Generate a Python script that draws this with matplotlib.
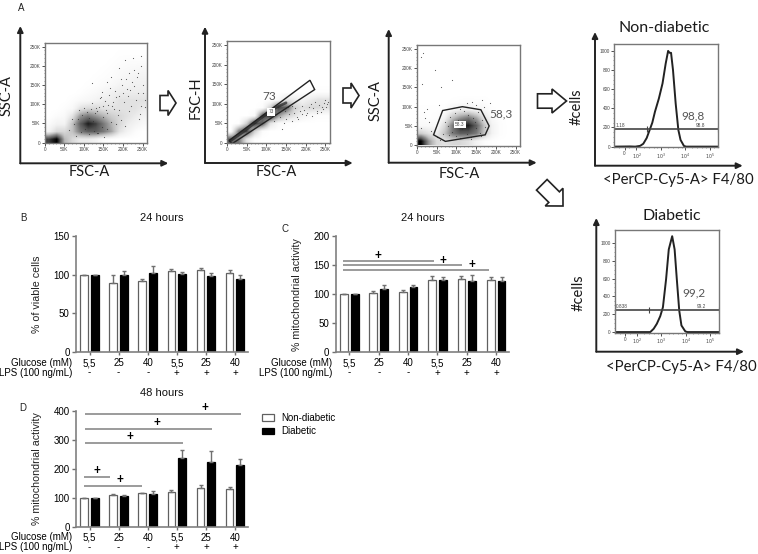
import matplotlib
matplotlib.use("Agg")
import matplotlib.pyplot as plt
from matplotlib.patches import Polygon

W, H = 758, 554
ARIAL = "Liberation Sans"
SOFT = "Lato"

# bar panels
glucose = ["5,5", "25", "40", "5,5", "25", "40"]
lps = ["-", "-", "-", "+", "+", "+"]

b_white = [100, 90, 92, 105, 106, 102]
b_white_err = [0, 10, 3, 2, 3, 4]
b_black = [100, 100, 103, 101, 99, 94]
b_black_err = [0, 5, 8, 3, 4, 6]

c_white = [100, 102, 103, 125, 126, 124]
c_white_err = [0, 3, 5, 6, 5, 6]
c_black = [100, 109, 112, 125, 123, 122]
c_black_err = [0, 6, 4, 4, 10, 8]
c_lines = [(-0.21, 2.87, 157), (-0.21, 3.82, 151), (-0.21, 4.76, 142)]
c_plus = [(0.97, 166), (3.2, 158), (4.17, 150)]

d_white = [100, 111, 115, 120, 134, 130]
d_white_err = [0, 1, 2, 5, 9, 7]
d_black = [100, 105, 112, 236, 224, 212]
d_black_err = [0, 5, 12, 28, 37, 22]
d_lines = [(-0.14, 5.2, 387), (-0.14, 4.21, 337), (-0.14, 3.21, 287), (-0.18, 0.71, 170), (-0.18, 1.81, 140)]
d_plus = [(3.98, 410), (2.33, 356), (1.38, 309), (0.26, 192), (1.06, 160)]

# flow cytometry, darkness per 20K cell, bottom row first
facs_ticks = [0, 50, 100, 150, 200, 250]
facs_labels = ["0", "50K", "100K", "150K", "200K", "250K"]

grid_a1 = [
    [8, 10, 4, 2.5, 1.5, 1.5, 1, .3, .1, 0, 0, 0, 0],
    [1, 2.5, 2.5, 3.5, 6, 7, 7, 6, 4.5, 2, 1, .3, 0],
    [.3, 1, 1, 3.5, 7, 9, 8, 6, 4, 2.5, 1.5, 1, .5],
    [0, .3, .5, 2, 5, 6, 5, 4, 3, 2.5, 2, 1.5, 1],
    [0, 0, .2, .5, 2, 2.5, 2.5, 2, 2, 2, 2, 2, 1.5],
    [0, 0, 0, .2, .5, .7, 1, 1.5, 1.5, 2, 2, 2, 2],
    [0, 0, 0, 0, .1, .3, .5, .8, 1.2, 1.5, 1.5, 1.5, 1.5],
    [0, 0, 0, 0, 0, .1, .2, .4, .6, 1, 1, 1.2, 1.2],
    [0, 0, 0, 0, 0, 0, .1, .2, .3, .5, .8, 1, 1],
    [0, 0, 0, 0, 0, 0, 0, .1, .2, .4, .5, .6, .7],
    [0, 0, 0, 0, 0, 0, 0, 0, .1, .2, .3, .3, .3],
    [0, 0, 0, 0, 0, 0, 0, 0, 0, .1, .1, .1, .1],
    [0, 0, 0, 0, 0, 0, 0, 0, 0, 0, 0, 0, 0],
]
grid_a2 = [
    [7, 6, 2, .2, 0, 0, 0, 0, 0, 0, 0, 0, 0],
    [0, 6, 8, 3, .3, 0, 0, 0, 0, 0, 0, 0, 0],
    [0, .1, 3, 8, 7, 2, .5, .2, .1, 0, 0, 0, 0],
    [0, 0, 0, .5, 7, 9, 5, 3, 2, 1, .5, .2, .2],
    [0, 0, 0, 0, .3, 3, 8, 7, 3, 2, 2.5, 2.5, 2],
    [0, 0, 0, 0, 0, .1, .5, 2, 1.5, 1, 1.5, 2, 2],
    [0, 0, 0, 0, 0, 0, 0, 0, 0, .1, .1, .2, .2],
    [0, 0, 0, 0, 0, 0, 0, 0, 0, 0, 0, 0, 0],
    [0, 0, 0, 0, 0, 0, 0, 0, 0, 0, 0, 0, 0],
    [0, 0, 0, 0, 0, 0, 0, 0, 0, 0, 0, 0, 0],
    [0, 0, 0, 0, 0, 0, 0, 0, 0, 0, 0, 0, 0],
    [0, 0, 0, 0, 0, 0, 0, 0, 0, 0, 0, 0, 0],
    [0, 0, 0, 0, 0, 0, 0, 0, 0, 0, 0, 0, 0],
]
grid_a3 = [
    [10, 5, 2.5, 2, 2.5, 2.5, 2, 1, .3, .1, 0, 0, 0],
    [3, 2, 1.5, 3.5, 6, 7, 7, 6, 3.5, 1, .2, 0, 0],
    [.5, .5, .5, 2.5, 6, 9, 9, 7, 3.5, 1, .2, 0, 0],
    [.2, .1, .2, 1, 3.5, 5, 6, 4.5, 2, .5, .1, 0, 0],
    [.1, .1, .1, .2, 1, 1.5, 1.5, 1, .7, .1, 0, 0, 0],
    [0, 0, 0, 0, .1, .2, .3, .2, .2, 0, 0, 0, 0],
    [0, 0, 0, 0, 0, 0, 0, 0, 0, 0, 0, 0, 0],
    [0, 0, 0, 0, 0, 0, 0, 0, 0, 0, 0, 0, 0],
    [0, 0, 0, 0, 0, 0, 0, 0, 0, 0, 0, 0, 0],
    [0, 0, 0, 0, 0, 0, 0, 0, 0, 0, 0, 0, 0],
    [0, 0, 0, 0, 0, 0, 0, 0, 0, 0, 0, 0, 0],
    [0, 0, 0, 0, 0, 0, 0, 0, 0, 0, 0, 0, 0],
    [0, 0, 0, 0, 0, 0, 0, 0, 0, 0, 0, 0, 0],
]

a1_x = [170, 205, 225, 190, 215, 245, 122, 160, 235, 250, 180, 140, 198, 228, 212, 150, 238, 175, 255, 130, 165, 208, 245, 88, 70, 190, 220, 240,
        154, 168, 182, 196, 210, 224, 238, 252, 147, 161, 176, 189, 203, 218, 232, 246, 120, 134, 144, 158, 172, 186, 201, 215, 229, 243, 257,
        62, 76, 84, 96, 108, 118, 128, 138, 148, 156, 92, 104, 114, 126, 136, 146, 160, 170, 182, 194, 206, 80, 100, 112, 124, 134, 152]
a1_y = [170, 215, 220, 195, 180, 200, 155, 158, 170, 150, 135, 115, 150, 190, 120, 95, 130, 105, 110, 90, 125, 165, 225, 85, 60, 85, 95, 60,
        108, 142, 118, 165, 140, 158, 182, 128, 132, 98, 88, 122, 105, 138, 112, 95, 102, 82, 118, 76, 96, 72, 128, 82, 148, 74, 92,
        32, 48, 62, 72, 80, 88, 76, 92, 66, 84, 28, 34, 22, 30, 26, 40, 36, 54, 48, 58, 44, 18, 90, 64, 56, 24, 14]
a2_x = [140, 150, 165, 180, 200, 215, 230, 245, 255, 190, 170, 225, 250, 145, 135, 120,
        148, 158, 172, 186, 196, 208, 220, 234, 242, 252, 258, 155, 178, 204, 214, 238, 166, 192, 228, 248]
a2_y = [35, 60, 55, 60, 70, 68, 80, 85, 100, 95, 75, 105, 110, 50, 65, 55,
        82, 72, 88, 80, 84, 92, 88, 96, 92, 92, 104, 90, 66, 76, 100, 78, 94, 72, 76, 102]
a3_x = [15, 10, 25, 55, 45, 12, 60, 110, 128, 140, 150, 20, 30, 10, 35, 18, 90, 170, 185, 165,
        84, 96, 104, 118, 130, 142, 154, 166, 78, 88, 100, 114, 126, 138, 150, 160, 172, 70, 82, 94, 108, 122, 136, 148, 162, 50, 58, 66]
a3_y = [240, 230, 95, 105, 195, 160, 150, 95, 110, 112, 105, 70, 60, 45, 38, 85, 170, 100, 110, 118,
        72, 84, 66, 90, 78, 70, 86, 66, 50, 34, 24, 42, 30, 22, 44, 32, 46, 60, 26, 54, 18, 60, 16, 60, 24, 22, 14, 30]

gate_a2 = [(5, 5), (211, 160), (223, 136), (13, -3)]
core_a2_x = [8, 45, 80, 105, 125, 150]
core_a2_y = [4, 30, 58, 76, 90, 102]
gate_a3 = [(65, 90), (115, 100), (162, 92), (183, 50), (173, 27), (72, 10), (42, 27)]

# histograms, x in decades
hist_ticks = [1.51, 2, 3, 4, 5]
hist_labels = ["0", "$10^2$", "$10^3$", "$10^4$", "$10^5$"]
hist_y = [0, 200, 400, 600, 800, 1000]
nd_x = [1.08, 1.74, 1.95, 2.15, 2.28, 2.42, 2.55, 2.65, 2.76, 2.92, 3.07, 3.2, 3.3, 3.36, 3.42, 3.5, 3.61, 3.72, 3.81, 3.95, 4.04, 5.36]
nd_y = [0, 2, 0, 8, 30, 90, 180, 250, 365, 503, 660, 868, 1000, 980, 980, 800, 450, 174, 70, 7, 0, 0]
d_x = [1.08, 2.55, 2.69, 2.82, 2.96, 3.07, 3.2, 3.31, 3.45, 3.55, 3.64, 3.74, 3.83, 3.99, 4.08, 5.36]
d_y = [0, 0, 37, 93, 178, 278, 593, 926, 1074, 926, 593, 240, 74, 7, 0, 0]

plt.rcParams["font.family"] = ARIAL
fig = plt.figure(figsize=(W / 100, H / 100), dpi=100)


def axes_at(x0, y0, x1, y1):
    return fig.add_axes([x0 / W, 1 - y1 / H, (x1 - x0) / W, (y1 - y0) / H])


def bar_panel(box, top, step, white, white_err, black, black_err, ylabel, label_x):
    ax = axes_at(*box)
    xs = list(range(len(glucose)))
    w = 0.265
    eb = dict(ecolor="#707070", elinewidth=1, capsize=1.5, capthick=1)
    zeros = [0] * len(xs)
    b1 = ax.bar([x - 0.184 for x in xs], white, w, color="white", edgecolor="#606060", linewidth=0.9,
                yerr=[zeros, white_err], error_kw=eb, label="Non-diabetic")
    b2 = ax.bar([x + 0.184 for x in xs], black, w, color="black", edgecolor="black", linewidth=0.9,
                yerr=[zeros, black_err], error_kw=eb, label="Diabetic")
    ax.set_xlim(-0.464, 5.447)
    ax.set_ylim(0, top)
    ax.set_yticks(range(0, top + 1, step))
    ax.set_xticks(xs)
    ax.set_xticklabels(glucose)
    ax.tick_params(axis="both", labelsize=7, color="#707070", width=1, length=3, pad=1.5)
    ax.tick_params(axis="x", length=2, pad=2.5)
    for s in ["top", "right"]:
        ax.spines[s].set_visible(False)
    for s in ["left", "bottom"]:
        ax.spines[s].set_color("#808080")
        ax.spines[s].set_linewidth(1.2)
    ax.patch.set_alpha(0)
    ax.set_ylabel(ylabel, fontsize=7.7, color="#202020")
    ax.yaxis.set_label_coords(label_x, 0.5)
    tr = ax.get_xaxis_transform()
    for x, s in zip(xs, lps):
        ax.text(x, -0.178, s, transform=tr, ha="center", va="center", fontsize=7)
    ax.text(-0.02, -0.092, "Glucose (mM)", transform=ax.transAxes, ha="right", va="center", fontsize=7)
    ax.text(-0.02, -0.178, "LPS (100 ng/mL)", transform=ax.transAxes, ha="right", va="center", fontsize=7)
    return ax, b1, b2


def sig_marks(ax, lines, pluses):
    for x0, x1, y in lines:
        ax.plot([x0, x1], [y, y], color="#808080", lw=1.1, clip_on=False, solid_capstyle="butt")
    for x, y in pluses:
        ax.text(x, y, "+", ha="center", va="center", fontsize=8.5, fontweight="bold", clip_on=False)


def facs_panel(box, grid, xs, ys):
    ax = axes_at(*box)
    ax.imshow(grid, extent=(0, 260, 0, 260), origin="lower", cmap="Greys", vmin=0, vmax=10,
              aspect="auto", interpolation="bilinear")
    ax.scatter(xs, ys, s=0.7, color="#333333", linewidths=0, alpha=0.8)
    ax.set_xlim(0, 262)
    ax.set_ylim(-2, 258)
    ax.set_xticks(facs_ticks)
    ax.set_xticklabels(facs_labels)
    ax.set_yticks(facs_ticks)
    ax.set_yticklabels(facs_labels)
    ax.set_xticks(range(0, 261, 10), minor=True)
    ax.set_yticks(range(0, 261, 10), minor=True)
    style_flow(ax)
    return ax


def style_flow(ax):
    ax.tick_params(axis="both", which="major", labelsize=3.4, length=2, width=0.6, pad=1, color="#333333",
                   labelcolor="#444444")
    ax.tick_params(axis="both", which="minor", length=1, width=0.4, color="#555555")
    for s in ax.spines.values():
        s.set_color("#777777")
        s.set_linewidth(1)


def hist_panel(box, xs, ys, top, gate_y, split, pct_left, pct_right, big, big_y):
    ax = axes_at(*box)
    ax.plot(xs, ys, color="#222222", lw=1.4)
    ax.plot([1.09, split, 5.36], [gate_y] * 3, color="#444444", lw=1.2, marker="|", ms=4, mew=0.8)
    ax.set_xlim(1.09, 5.36)
    ax.set_ylim(-7, top)
    ax.set_xticks(hist_ticks)
    ax.set_xticklabels(hist_labels)
    ax.set_yticks(hist_y)
    ax.set_xticks([1.3, 1.7, 2.3, 2.5, 2.7, 2.85, 3.3, 3.5, 3.7, 3.85, 4.3, 4.5, 4.7, 4.85, 5.2], minor=True)
    ax.set_yticks(range(0, 1001, 50), minor=True)
    style_flow(ax)
    ax.text(1.14, gate_y + 12, pct_left, fontsize=3.4, color="#444444", va="bottom")
    ax.text(4.45, gate_y + 12, pct_right, fontsize=3.4, color="#444444", va="bottom")
    ax.text(4.34, big_y, big, fontsize=8.5, color="#555555", family=SOFT, ha="center", va="center")
    return ax


# panel B
ax_b, _, _ = bar_panel((76, 236.3, 248, 352), 150, 50, b_white, b_white_err, b_black, b_black_err,
                       "% of viable cells", -0.2)

# panel C
ax_c, _, _ = bar_panel((335.7, 236.3, 509.3, 352), 200, 50, c_white, c_white_err, c_black, c_black_err,
                       "% mitochondrial activity", -0.195)
sig_marks(ax_c, c_lines, c_plus)

# panel D
ax_d, bar_w, bar_k = bar_panel((76, 410.7, 248, 526.7), 400, 100, d_white, d_white_err, d_black, d_black_err,
                               "% mitochondrial activity", -0.2)
sig_marks(ax_d, d_lines, d_plus)
ax_d.legend(handles=[bar_w, bar_k], loc="upper left", bbox_to_anchor=(1.08, 0.98), frameon=False, fontsize=7,
            handlelength=1.3, handleheight=0.7, handletextpad=0.75, labelspacing=0.35, borderpad=0, borderaxespad=0)

# panel A
ax1 = facs_panel((44.7, 42.7, 147.3, 143.3), grid_a1, a1_x, a1_y)

ax2 = facs_panel((227, 41.3, 330, 143.3), grid_a2, a2_x, a2_y)
ax2.plot(core_a2_x, core_a2_y, color="#222222", lw=2, alpha=0.7, solid_capstyle="round")
ax2.add_patch(Polygon(gate_a2, closed=True, fill=False, edgecolor="#222222", lw=1))
ax2.text(108, 117, "73", fontsize=8.5, color="#555555", family=SOFT, ha="center", va="center")
ax2.text(112, 79, "73", fontsize=3.4, color="#444444", ha="center", va="center",
         bbox=dict(fc="white", ec="none", pad=1))

ax3 = facs_panel((417, 45, 520.3, 146), grid_a3, a3_x, a3_y)
ax3.add_patch(Polygon(gate_a3, closed=True, fill=False, edgecolor="#222222", lw=1))
ax3.text(212, 82, "58,3", fontsize=8.5, color="#555555", family=SOFT, ha="center", va="center")
ax3.text(109, 53, "58.3", fontsize=3.4, color="#444444", ha="center", va="center",
         bbox=dict(fc="white", ec="none", pad=0.8))

hist_panel((614.3, 44.3, 718.3, 147.3), nd_x, nd_y, 1069, 180, 2.42, "1.18", "98.8", "98,8", 320)
hist_panel((614.7, 230.3, 718.7, 332.7), d_x, d_y, 1140, 248, 2.5, "0.838", "99.2", "99,2", 440)

# overlay in image pixels for arrows and free labels
ov = fig.add_axes([0, 0, 1, 1], zorder=10)
ov.set_xlim(0, W)
ov.set_ylim(H, 0)
ov.axis("off")


def axis_arrows(x, bottom, top, right):
    for end in [(x, top), (right, bottom)]:
        ov.annotate("", xy=end, xytext=(x, bottom),
                    arrowprops=dict(arrowstyle="-|>,head_width=0.17,head_length=0.35", color="#222222", lw=1.4,
                                    shrinkA=0, shrinkB=0))


def hollow_arrow(cx, cy, length, width, angle, shaft=0.3, head=0.5):
    t = plt.matplotlib.transforms.Affine2D().rotate_deg(angle).translate(cx, cy)
    l, w = length / 2, width / 2
    pts = [(-l, -w * shaft * 2), (l - length * head, -w * shaft * 2), (l - length * head, -w), (l, 0),
           (l - length * head, w), (l - length * head, w * shaft * 2), (-l, w * shaft * 2)]
    ov.add_patch(Polygon(t.transform(pts), closed=True, fc="white", ec="#222222", lw=1.2))


axis_arrows(20.3, 163.3, 26, 168.3)
axis_arrows(205, 163, 26.7, 352.7)
axis_arrows(388.7, 162.7, 29, 536.7)
axis_arrows(595, 165.7, 32, 742.7)
axis_arrows(596.3, 351.7, 218, 744)

hollow_arrow(168, 103, 16, 25, 0)
hollow_arrow(351, 95.5, 16, 25, 0)
hollow_arrow(552, 101, 29, 24, 0)
hollow_arrow(552.4, 195.4, 30, 25, 45, head=0.42)


def big_text(x, y, s, rot=0, size=10.5):
    ov.text(x, y, s, family=SOFT, fontsize=size, color="#1a1a1a", rotation=rot, ha="center", va="center")


big_text(7, 96, "SSC-A", 90)
big_text(89, 172, "FSC-A")
big_text(196, 98, "FSC-H", 90)
big_text(276, 172, "FSC-A")
big_text(376, 101, "SSC-A", 90)
big_text(459, 174, "FSC-A")
big_text(577, 107, "#cells", 90)
big_text(579, 293, "#cells", 90)
big_text(664, 28, "Non-diabetic", size=11.5)
big_text(671.7, 216, "Diabetic", size=11.5)
big_text(678, 180, "<PerCP-Cy5-A> F4/80", size=10.7)
big_text(681, 366.7, "<PerCP-Cy5-A> F4/80", size=10.7)

for x, y, s in [(21, 8, "A"), (23, 218, "B"), (285, 229, "C"), (23, 408, "D")]:
    ov.text(x, y, s, fontsize=7, ha="center", va="center", color="#222222")
for x, y, s in [(162, 218, "24 hours"), (422.7, 218, "24 hours"), (162, 392.7, "48 hours")]:
    ov.text(x, y, s, fontsize=8, ha="center", va="center", color="#111111")

fig.savefig("out.png", dpi=100, facecolor="white")
